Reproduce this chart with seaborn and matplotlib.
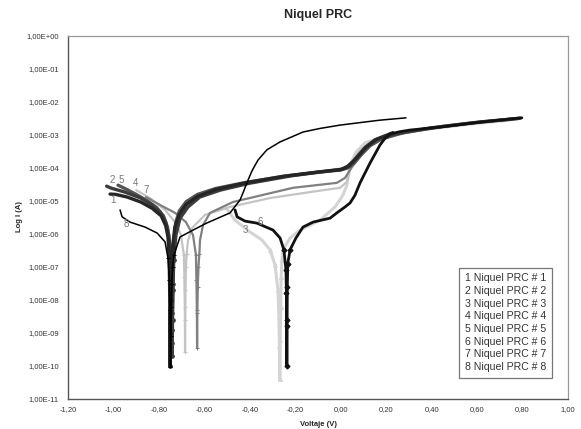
import numpy as np
import pandas as pd
import matplotlib
matplotlib.use("Agg")
import matplotlib.pyplot as plt
from matplotlib.lines import Line2D
from matplotlib.ticker import FixedLocator, FuncFormatter, NullLocator
import seaborn as sns

# Voltage (V) and log10 of current (A)
v1 = [-1.015, -0.99, -0.94, -0.88, -0.83, -0.79, -0.77, -0.76, -0.755, -0.753, -0.752, -0.751, -0.750, -0.748, -0.745,
      -0.74, -0.73, -0.71, -0.68, -0.63, -0.55, -0.42, -0.25, -0.10, 0.0, 0.03, 0.07, 0.11, 0.16, 0.23]
l1 = [-4.79, -4.80, -4.88, -5.03, -5.22, -5.45, -5.75, -6.1, -6.7, -7.5, -8.4, -10.0, -9.0, -8.0, -7.1,
      -6.4, -5.8, -5.4, -5.1, -4.86, -4.65, -4.45, -4.25, -4.12, -4.05, -3.95, -3.7, -3.38, -3.12, -2.93]

v2 = [-1.03, -1.01, -0.95, -0.88, -0.83, -0.795, -0.77, -0.757, -0.751, -0.748, -0.746, -0.744, -0.742, -0.740, -0.738,
      -0.735, -0.725, -0.707, -0.672, -0.62, -0.53, -0.40, -0.22, -0.09, 0.01, 0.04, 0.07, 0.11, 0.15, 0.24, 0.39, 0.57, 0.79]
l2 = [-4.55, -4.61, -4.73, -4.91, -5.12, -5.33, -5.64, -6.03, -6.64, -7.1, -8.0, -8.9, -9.7, -8.6, -7.7,
      -6.8, -6.03, -5.52, -5.18, -4.88, -4.67, -4.46, -4.24, -4.12, -4.03, -3.94, -3.67, -3.36, -3.15, -2.97, -2.79, -2.64, -2.49]

v3 = [-0.505, -0.465, -0.399, -0.347, -0.311, -0.289, -0.276, -0.272, -0.270, -0.268, -0.266, -0.264, -0.262, -0.259,
      -0.254, -0.223, -0.179, -0.091, -0.025, 0.010, 0.027, 0.041, 0.067, 0.107, 0.195, 0.349, 0.569, 0.745]
l3 = [-5.21, -5.58, -5.94, -6.18, -6.48, -6.94, -7.7, -8.5, -9.4, -10.4, -9.2, -8.2, -7.3, -6.8,
      -6.48, -6.12, -5.88, -5.58, -5.18, -4.82, -4.52, -3.91, -3.52, -3.24, -3.03, -2.85, -2.67, -2.55]

v4 = [-0.90, -0.84, -0.773, -0.729, -0.703, -0.690, -0.688, -0.686, -0.685, -0.684, -0.683, -0.681, -0.678, -0.672,
      -0.654, -0.597, -0.487, -0.311, -0.135, -0.003, 0.027, 0.049, 0.085, 0.137, 0.24, 0.437, 0.613, 0.767]
l4 = [-4.67, -4.91, -5.27, -5.64, -6.03, -6.64, -7.3, -8.2, -9.58, -8.6, -7.7, -7.0, -6.6, -6.2,
      -5.82, -5.42, -5.18, -4.91, -4.73, -4.6, -4.42, -3.85, -3.45, -3.21, -3.0, -2.76, -2.61, -2.52]

v5 = [-0.98, -0.95, -0.90, -0.85, -0.81, -0.78, -0.762, -0.752, -0.748, -0.745, -0.743, -0.741, -0.739, -0.736, -0.733,
      -0.726, -0.71, -0.68, -0.63, -0.55, -0.42, -0.25, -0.10, 0.00, 0.03, 0.06, 0.09, 0.13, 0.18, 0.28, 0.45, 0.62, 0.78]
l5 = [-4.52, -4.62, -4.80, -5.00, -5.20, -5.45, -5.80, -6.30, -7.0, -7.9, -9.3, -8.4, -7.5, -6.7, -6.1,
      -5.65, -5.3, -5.02, -4.80, -4.62, -4.44, -4.25, -4.13, -4.06, -4.0, -3.85, -3.6, -3.32, -3.12, -2.92, -2.74, -2.6, -2.5]

v6 = [-0.465, -0.456, -0.421, -0.369, -0.298, -0.267, -0.250, -0.241, -0.239, -0.238, -0.237, -0.236, -0.235, -0.233,
      -0.223, -0.197, -0.166, -0.122, -0.047, -0.017, 0.019, 0.041, 0.063, 0.085, 0.129, 0.173, 0.195, 0.217, 0.26,
      0.305, 0.437, 0.613, 0.797]
l6 = [-5.27, -5.48, -5.61, -5.67, -5.88, -6.12, -6.48, -7.09, -7.8, -8.6, -10.0, -8.8, -7.6, -6.9,
      -6.48, -6.12, -5.79, -5.64, -5.52, -5.36, -5.18, -5.06, -4.82, -4.45, -3.85, -3.30, -3.10, -2.97, -2.90,
      -2.85, -2.76, -2.61, -2.48]

v7 = [-0.857, -0.795, -0.729, -0.681, -0.650, -0.637, -0.635, -0.633, -0.632, -0.631, -0.629, -0.626, -0.622, -0.619,
      -0.606, -0.575, -0.474, -0.21, -0.017, 0.019, 0.041, 0.076, 0.12, 0.173, 0.26, 0.437, 0.613, 0.789]
l7 = [-4.88, -5.12, -5.36, -5.64, -6.03, -6.64, -7.4, -8.3, -9.45, -8.4, -7.6, -7.0, -6.6, -6.18,
      -5.73, -5.36, -5.03, -4.6, -4.45, -4.3, -4.06, -3.7, -3.36, -3.15, -2.94, -2.76, -2.61, -2.48]

v8 = [-0.971, -0.962, -0.927, -0.861, -0.808, -0.773, -0.760, -0.754, -0.751, -0.749, -0.747, -0.745, -0.743, -0.740,
      -0.734, -0.707, -0.641, -0.590, -0.487, -0.443, -0.428, -0.413, -0.390, -0.364, -0.325, -0.267, -0.166,
      -0.09, -0.003, 0.09, 0.173, 0.287]
l8 = [-5.27, -5.48, -5.64, -5.79, -5.97, -6.24, -6.73, -7.4, -8.3, -10.03, -9.1, -8.2, -7.5, -7.0,
      -6.64, -6.09, -5.85, -5.67, -5.36, -4.97, -4.72, -4.45, -4.08, -3.76, -3.45, -3.21, -2.91,
      -2.80, -2.70, -2.62, -2.55, -2.48]

series_names = [f"Niquel PRC # {i}" for i in range(1, 9)]
voltages = [v1, v2, v3, v4, v5, v6, v7, v8]
log_currents = [l1, l2, l3, l4, l5, l6, l7, l8]

# curve number labels near the start of each curve (V, log I)
label_text = ["1", "2", "3", "4", "5", "6", "7", "8"]
label_v = [-1.002, -1.006, -0.421, -0.905, -0.967, -0.355, -0.857, -0.945]
label_l = [-4.97, -4.36, -5.88, -4.45, -4.36, -5.64, -4.67, -5.70]

x_ticks = [-1.2, -1.0, -0.8, -0.6, -0.4, -0.2, 0.0, 0.2, 0.4, 0.6, 0.8, 1.0]
y_ticks = [1e0, 1e-1, 1e-2, 1e-3, 1e-4, 1e-5, 1e-6, 1e-7, 1e-8, 1e-9, 1e-10, 1e-11]

# styles per curve: colour, line width, marker, marker size
styles = {
    1: ("#262626", 2.4, "o", 2.6),
    2: ("#3c3c3c", 2.4, "o", 2.6),
    3: ("#d4d4d4", 2.2, "^", 2.8),
    4: ("#c4c4c4", 1.6, "+", 3.2),
    5: ("#555555", 2.4, "o", 2.6),
    6: ("#111111", 2.0, "D", 2.6),
    7: ("#808080", 1.6, "+", 3.2),
    8: ("#000000", 1.1, "_", 3.0),
}
draw_order = [3, 4, 7, 5, 2, 1, 6, 8]

frames = []
for i, (vv, ll) in enumerate(zip(voltages, log_currents), start=1):
    frames.append(pd.DataFrame({"curve": i, "V": vv, "I": np.power(10.0, ll)}))
df = pd.concat(frames, ignore_index=True)

sns.set_style("white")
plt.rcParams["font.family"] = ["Liberation Sans", "DejaVu Sans"]

fig = plt.figure(figsize=(5.81, 4.29), dpi=100)
ax = fig.add_axes([68 / 581, 1 - 399 / 429, 500 / 581, 363 / 429])

for k in draw_order:
    color, lw, mk, ms = styles[k]
    sub = df[df["curve"] == k]
    # markers only show up where the scan points spread apart, near the corrosion dip
    dip = [j for j, val in enumerate(log_currents[k - 1]) if val < -6.3]
    sns.lineplot(data=sub, x="V", y="I", ax=ax, estimator=None, sort=False,
                 color=color, linewidth=lw, marker=mk, markersize=ms, markevery=dip,
                 markeredgecolor=color, markerfacecolor=color, legend=False)

for t, xv, lv in zip(label_text, label_v, label_l):
    ax.text(xv, 10 ** lv, t, fontsize=7, color="#777777", ha="center", va="center")

ax.set_yscale("log")
ax.set_xlim(-1.2, 1.0)
ax.set_ylim(1e-11, 1e0)
ax.xaxis.set_major_locator(FixedLocator(x_ticks))
ax.xaxis.set_major_formatter(FuncFormatter(lambda x, p: f"{round(x, 2) + 0.0:.2f}".replace(".", ",")))
ax.yaxis.set_major_locator(FixedLocator(y_ticks))
ax.yaxis.set_minor_locator(NullLocator())
ax.yaxis.set_major_formatter(FuncFormatter(lambda y, p: f"{y:.2E}".replace(".", ",")))
ax.tick_params(axis="both", labelsize=5.5, labelcolor="#333333", length=3, width=0.7,
               color="#555555", direction="out")
ax.tick_params(axis="x", direction="inout")
ax.set_xlabel("")
ax.set_ylabel("")

for side in ["left", "bottom"]:
    ax.spines[side].set_color("#555555")
    ax.spines[side].set_linewidth(1.0)
for side in ["top", "right"]:
    ax.spines[side].set_color("#999999")
    ax.spines[side].set_linewidth(0.9)

handles = [Line2D([], [], linestyle="none", marker=None) for _ in series_names]
labels = [f"{i} {name}" for i, name in enumerate(series_names, start=1)]
leg = ax.legend(handles, labels, loc="lower right", bbox_to_anchor=(0.978, 0.044),
                fontsize=7.6, handlelength=0, handletextpad=0, labelspacing=0.25,
                frameon=True, fancybox=False, edgecolor="#555555", borderpad=0.55)
leg.get_frame().set_linewidth(0.9)
for txt in leg.get_texts():
    txt.set_color("#333333")

fig.text(318 / 581, 1 - 15 / 429, "Niquel PRC", ha="center", va="center", fontsize=9, weight="bold")
fig.text(318 / 581, 1 - 424 / 429, "Voltaje (V)", ha="center", va="center", fontsize=5.5, weight="bold")
fig.text(20 / 581, 1 - 217 / 429, "Log I (A)", ha="center", va="center", fontsize=5.5, weight="bold",
         rotation=90)

fig.savefig("out.png", dpi=100)
